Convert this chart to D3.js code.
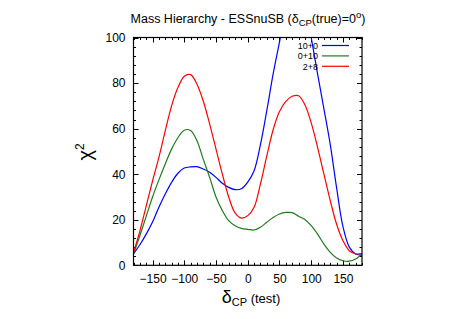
<!DOCTYPE html>
<html>
<head>
<meta charset="utf-8">
<script src="https://cdn.jsdelivr.net/npm/d3@7"></script>
<style>
  body { margin: 0; background: #fff; }
  svg { display: block; font-family: "Liberation Sans", Arial, sans-serif; }
</style>
</head>
<body>
<svg id="chart" width="457" height="319"></svg>
<script>
// Data
const deltaCP = [-180,-170,-160,-150,-140,-130,-120,-110,-100,-90,-80,-70,-60,-50,-40,-30,-20,-10,0,10,20,30,40,50,60,70,80,90,100,110,120,130,140,150,160,170,180];
const series10p0 = [5,9,13.7,19,25.5,31.3,36.4,40.4,42.7,43.2,43.3,42.3,40.8,38.6,36,34.2,33.2,33.6,36.5,41.5,53,67.9,84,98,112,121,123,116,100,84,68.7,53,34,17,8,5,4.5];
const series0p10 = [5,13,21.5,30,37.5,44.5,51,56,59.3,59.2,54.7,46.5,38.6,30,24,19.6,17.4,16.2,15.8,15.5,16.7,18.9,21,22.5,23.2,23.1,21.5,20.1,17.4,13.7,9.3,5.7,3.2,2,1.8,2.8,5];
const series2p8 = [5.5,15,26,37,47.4,59,70,78,83,83.7,79.5,72,62,51,40,30,23,20.7,21.8,25.5,35.7,48,59.5,67.5,72,74.2,74.4,70.5,62.5,51.8,40,28.4,18,10.8,6.4,5,5.3];
const seriesNames = ["10+0", "0+10", "2+8"];
const seriesColors = ["#0000ff", "#1f7a1f", "#ff0000"];
const xTicks = [-150,-100,-50,0,50,100,150];
const yTicks = [0,20,40,60,80,100];

const svg = d3.select("#chart");
const m = {left: 133.5, right: 362, top: 37.5, bottom: 265.3};
const x = d3.scaleLinear().domain([-180, 180]).range([m.left, m.right]);
const y = d3.scaleLinear().domain([0, 100]).range([m.bottom, m.top]);

svg.append("defs").append("clipPath").attr("id", "clip")
  .append("rect").attr("x", m.left).attr("y", m.top)
  .attr("width", m.right - m.left).attr("height", m.bottom - m.top);

// ticks (inward, mirrored)
const tickG = svg.append("g").attr("stroke", "#000").attr("stroke-width", 1);
d3.range(-180, 181, 10).forEach(v => {
  const major = v % 50 === 0;
  const L = major ? 5 : 2.5;
  const px = Math.round(x(v)) + 0.5;
  tickG.append("line").attr("x1", px).attr("x2", px).attr("y1", m.bottom).attr("y2", m.bottom - L);
  tickG.append("line").attr("x1", px).attr("x2", px).attr("y1", m.top).attr("y2", m.top + L);
});
d3.range(0, 101, 4).forEach(v => {
  const major = v % 20 === 0;
  const L = major ? 5 : 2.5;
  const py = Math.round(y(v)) + 0.5;
  tickG.append("line").attr("x1", m.left).attr("x2", m.left + L).attr("y1", py).attr("y2", py);
  tickG.append("line").attr("x1", m.right).attr("x2", m.right - L).attr("y1", py).attr("y2", py);
});

// axis labels via d3 axes
const xAxis = svg.append("g").attr("transform", `translate(0,${m.bottom})`)
  .call(d3.axisBottom(x).tickValues(xTicks).tickSize(0).tickPadding(9).tickFormat(d3.format("d")));
xAxis.select(".domain").remove();
xAxis.selectAll("text").attr("font-size", 12).attr("font-family", "Liberation Sans, Arial, sans-serif").attr("fill", "#000");
const yAxis = svg.append("g").attr("transform", `translate(${m.left},0)`)
  .call(d3.axisLeft(y).tickValues(yTicks).tickSize(0).tickPadding(8).tickFormat(d3.format("d")));
yAxis.select(".domain").remove();
yAxis.selectAll("text").attr("font-size", 12).attr("font-family", "Liberation Sans, Arial, sans-serif").attr("fill", "#000");

// curves
const line = d3.line().x((d, i) => x(deltaCP[i])).y(d => y(d)).curve(d3.curveCatmullRom.alpha(0.5));
const curves = [series10p0, series0p10, series2p8];
const plotG = svg.append("g").attr("clip-path", "url(#clip)");
curves.forEach((s, k) => {
  plotG.append("path").datum(s).attr("d", line).attr("fill", "none")
    .attr("stroke", seriesColors[k]).attr("stroke-width", 1.2);
});

// frame
svg.append("rect").attr("x", m.left).attr("y", m.top)
  .attr("width", m.right - m.left).attr("height", m.bottom - m.top)
  .attr("fill", "none").attr("stroke", "#000").attr("stroke-width", 1.2);

// legend
const leg = svg.append("g");
seriesNames.forEach((n, k) => {
  const ly = 45.5 + k * 10.4;
  leg.append("text").attr("x", 318).attr("y", ly + 3.2).attr("text-anchor", "end")
    .attr("font-size", 9).attr("fill", "#000").text(n);
  leg.append("line").attr("x1", 322).attr("x2", 349).attr("y1", ly).attr("y2", ly)
    .attr("stroke", seriesColors[k]).attr("stroke-width", 1.2);
});

// title
const t = svg.append("text").attr("x", 248).attr("y", 23).attr("text-anchor", "middle")
  .attr("font-size", 12.5).attr("fill", "#000");
t.append("tspan").text("Mass Hierarchy - ESSnuSB (δ");
t.append("tspan").attr("font-size", 9.5).attr("dy", 3).text("CP");
t.append("tspan").attr("dy", -3).text("(true)=0");
t.append("tspan").attr("font-size", 9.5).attr("dy", -5).text("o");
t.append("tspan").attr("dy", 5).text(")");

// x label
const xl = svg.append("text").attr("x", 251).attr("y", 303).attr("text-anchor", "middle").attr("fill", "#000");
xl.append("tspan").attr("font-size", 18).text("δ");
xl.append("tspan").attr("font-size", 11).attr("dy", 3).text("CP");
xl.append("tspan").attr("font-size", 13).attr("dy", -3).text(" (test)");

// y label
const yl = svg.append("text").attr("transform", "translate(92,152) rotate(-90)")
  .attr("text-anchor", "middle").attr("fill", "#000");
yl.append("tspan").attr("font-size", 20).text("χ");
yl.append("tspan").attr("font-size", 12).attr("dy", -8).text("2");
</script>
</body>
</html>
